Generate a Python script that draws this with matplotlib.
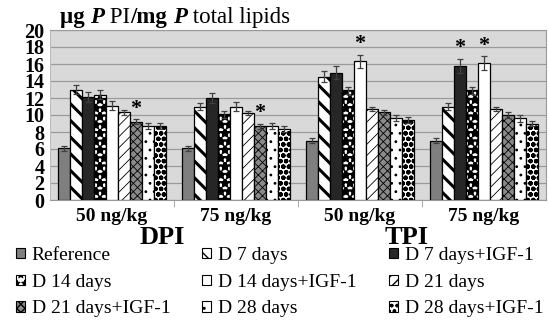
import numpy as np
import matplotlib
matplotlib.use("Agg")
import matplotlib.pyplot as plt
from matplotlib.patches import Patch

# values (ug P PI / mg P total lipids)
groups = ["50 ng/kg", "75 ng/kg", "50 ng/kg", "75 ng/kg"]
series = ["Reference", "D 7 days", "D 7 days+IGF-1", "D 14 days", "D 14 days+IGF-1",
          "D 21 days", "D 21 days+IGF-1", "D 28 days", "D 28 days+IGF-1"]

# columns = groups (DPI 50, DPI 75, TPI 50, TPI 75)
ref = [6.1, 6.1, 7.0, 7.0]
d7 = [13.0, 11.0, 14.5, 11.0]
d7_igf = [12.1, 12.0, 15.0, 15.8]
d14 = [12.4, 10.1, 12.9, 12.9]
d14_igf = [11.1, 11.0, 16.3, 16.1]
d21 = [10.3, 10.2, 10.7, 10.7]
d21_igf = [9.2, 8.7, 10.3, 10.0]
d28 = [8.7, 8.7, 9.6, 9.6]
d28_igf = [8.7, 8.3, 9.4, 9.0]

ref_err = [0.3, 0.3, 0.3, 0.3]
d7_err = [0.55, 0.45, 0.65, 0.45]
d7_igf_err = [0.6, 0.6, 0.75, 0.8]
d14_err = [0.5, 0.4, 0.45, 0.45]
d14_igf_err = [0.5, 0.5, 0.8, 0.8]
d21_err = [0.3, 0.25, 0.25, 0.25]
d21_igf_err = [0.3, 0.3, 0.3, 0.3]
d28_err = [0.4, 0.4, 0.35, 0.4]
d28_igf_err = [0.35, 0.35, 0.35, 0.35]

values = [ref, d7, d7_igf, d14, d14_igf, d21, d21_igf, d28, d28_igf]
errors = [ref_err, d7_err, d7_igf_err, d14_err, d14_igf_err, d21_err, d21_igf_err, d28_err, d28_igf_err]

# (series index, group index) of significant bars
stars = [(6, 0), (6, 1), (4, 2), (2, 3), (4, 3)]

# fill styles per series: (facecolor, hatch, hatch linewidth)
styles = [
    ("#7f7f7f", "", 1.0),
    ("white", "\\\\", 2.2),
    ("#262626", "", 1.0),
    ("white", "**", 2.0),
    ("white", "", 1.0),
    ("white", "///", 0.6),
    ("#8a8a8a", "xxxx", 0.6),
    ("white", "..", 0.8),
    ("white", "ooo", 1.6),
]

plt.rcParams["font.family"] = "Liberation Serif"

fig = plt.figure(figsize=(5.5, 3.21), dpi=100)
ax = fig.add_axes([50 / 550, 1 - 200 / 321, 496 / 550, 170 / 321])
ax.set_facecolor("#d9d9d9")

n = len(series)
span = 0.87
w = span / n
x = np.arange(len(groups))

for j, (vals, errs) in enumerate(zip(values, errors)):
    fc, hatch, hlw = styles[j]
    pos = x - span / 2 + w * (j + 0.5)
    with plt.rc_context({"hatch.linewidth": hlw}):
        ax.bar(pos, vals, width=w, color=fc, edgecolor="black",
               linewidth=0.9, hatch=hatch, zorder=3)
    ax.errorbar(pos, vals, yerr=errs, fmt="none", ecolor="#404040",
                elinewidth=0.9, capsize=2.5, capthick=0.9, zorder=4)

for j, g in stars:
    pos = g - span / 2 + w * (j + 0.5)
    ax.text(pos, values[j][g] + errors[j][g] + 0.05, "*", ha="center", va="bottom",
            fontsize=16, fontweight="bold", zorder=5)

ax.set_xlim(-0.5, 3.5)
ax.set_ylim(0, 20)
ax.set_yticks(np.arange(0, 21, 2))
ax.set_yticklabels([str(v) for v in range(0, 21, 2)], fontsize=14.5, fontweight="bold")
ax.yaxis.grid(True, color="#9a9a9a", linewidth=0.9, zorder=0)
ax.set_axisbelow(True)
ax.tick_params(axis="y", length=0, pad=4)

ax.set_xticks(x)
ax.set_xticklabels(groups, fontsize=14, fontweight="bold")
ax.set_xticks([0.5, 1.5, 2.5], minor=True)
ax.tick_params(axis="x", which="major", length=0, pad=6)
ax.tick_params(axis="x", which="minor", length=5, color="#9a9a9a", direction="out")

for side in ["top", "right", "bottom"]:
    ax.spines[side].set_color("#9a9a9a")
ax.spines["left"].set_color("#bdbdbd")

fig.text(162 / 550, 1 - 238 / 321, "DPI", ha="center", va="center",
         fontsize=19, fontweight="bold")
fig.text(407 / 550, 1 - 238 / 321, "TPI", ha="center", va="center",
         fontsize=19, fontweight="bold")

# title with mixed styles
pieces = [("µg ", "bold", "normal"), ("P", "bold", "italic"), (" PI", "normal", "normal"),
          ("/mg ", "bold", "normal"), ("P", "bold", "italic"), (" total lipids", "normal", "normal")]
prev = None
for s, wgt, sty in pieces:
    if prev is None:
        prev = fig.text(60 / 550, 1 - 28 / 321, s, fontsize=16.5, fontweight=wgt,
                        fontstyle=sty, va="bottom")
    else:
        prev = ax.annotate(s, xy=(1, 0), xycoords=prev, va="bottom", ha="left",
                           fontsize=16.5, fontweight=wgt, fontstyle=sty,
                           annotation_clip=False)

handles = []
for j, name in enumerate(series):
    fc, hatch, hlw = styles[j]
    with plt.rc_context({"hatch.linewidth": hlw}):
        handles.append(Patch(facecolor=fc, edgecolor="black", hatch=hatch,
                             linewidth=0.8, label=name))

# legend laid out row by row: one legend per column
col_x = [16, 202, 389]
for c in range(3):
    idx = [c, c + 3, c + 6]
    fig.legend([handles[i] for i in idx], [series[i] for i in idx],
               loc="upper left", bbox_to_anchor=(col_x[c] / 550, 1 - 247 / 321),
               frameon=False, fontsize=14, handlelength=0.45, handleheight=0.45,
               handletextpad=0.35, labelspacing=0.5, borderaxespad=0, borderpad=0)

fig.savefig("out.png", dpi=100)
